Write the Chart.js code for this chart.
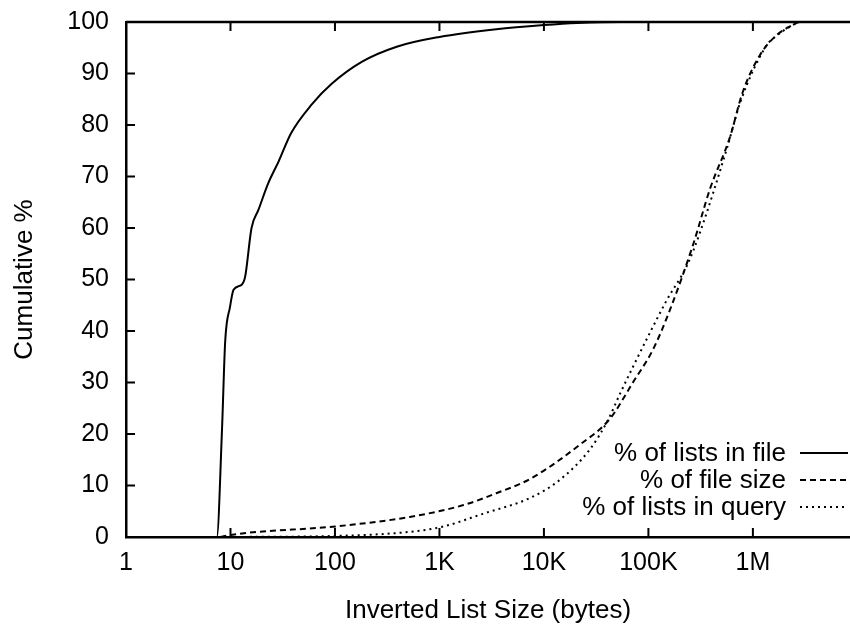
<!DOCTYPE html>
<html>
<head>
<meta charset="utf-8">
<script src="https://cdn.jsdelivr.net/npm/chart.js@4.4.0/dist/chart.umd.min.js"></script>
<style>
  html, body { margin: 0; padding: 0; background: #fff; }
  canvas { display: block; }
</style>
</head>
<body>
<canvas id="cdfChart" width="850" height="628"></canvas>
<script>
// inverted list size (bytes) vs cumulative %
let listsInFileX = [1, 7.4, 8.3, 8.9, 9.9, 10.7, 12.8, 13.8, 15.9, 18.5, 23, 29, 38, 60, 93, 182, 390, 1000, 3500, 10000, 21000, 54000, 8.5e6];
let listsInFileY = [0, 0, 21, 38, 44.7, 48, 49, 50.5, 60, 63.5, 68.7, 73, 78.4, 84, 88, 92.3, 95.2, 97.1, 98.6, 99.4, 99.8, 100, 100];

let fileSizeX = [8, 10, 107, 520, 1700, 3500, 7400, 22000, 43000, 71000, 110000, 160000, 270000, 390000, 600000, 800000, 1.17e6, 1.7e6, 2.4e6, 2.8e6, 8.5e6];
let fileSizeY = [0, 0.4, 2.1, 3.9, 6.2, 8.5, 11.3, 17.9, 23, 30, 36.3, 44, 57, 67.7, 77.5, 86.4, 93.6, 97.5, 99.4, 100, 100];

let listsInQueryX = [9, 100, 520, 1070, 2600, 7400, 14000, 27500, 41000, 54000, 71000, 103000, 150000, 235000, 310000, 565000, 760000, 1.35e6, 1.5e6, 2.4e6, 2.8e6, 8.5e6];
let listsInQueryY = [0, 0.2, 1, 2, 4.5, 7.6, 11, 17, 22.7, 28, 33, 39.6, 46, 52.8, 59, 75.5, 84.5, 95.5, 96.5, 99.4, 100, 100];

let xTickValues = [1, 10, 100, 1000, 10000, 100000, 1000000];
let xTickLabels = ['1', '10', '100', '1K', '10K', '100K', '1M'];
let seriesNames = ['% of lists in file', '% of file size', '% of lists in query'];

const FONT = '"Liberation Sans", Arial, Helvetica, sans-serif';

function pairs(xs, ys) {
  return xs.map((x, i) => ({ x: x, y: ys[i] }));
}

// gnuplot style frame: top border, inward ticks
const framePlugin = {
  id: 'frame',
  afterDraw(chart) {
    const ctx = chart.ctx;
    const a = chart.chartArea;
    const xs = chart.scales.x, ys = chart.scales.y;
    ctx.save();
    ctx.strokeStyle = '#000';
    ctx.lineWidth = 2.5;
    ctx.beginPath();
    ctx.moveTo(a.left, a.top);
    ctx.lineTo(a.right, a.top);
    ctx.stroke();
    ctx.lineWidth = 2;
    ctx.beginPath();
    xTickValues.forEach(v => {
      const px = xs.getPixelForValue(v);
      ctx.moveTo(px, a.bottom); ctx.lineTo(px, a.bottom - 9);
      ctx.moveTo(px, a.top); ctx.lineTo(px, a.top + 9);
    });
    for (let v = 10; v < 100; v += 10) {
      const py = ys.getPixelForValue(v);
      ctx.moveTo(a.left, py); ctx.lineTo(a.left + 9, py);
    }
    ctx.stroke();

    // legend, gnuplot style: right aligned text, sample to the right
    ctx.font = '26px ' + FONT;
    ctx.fillStyle = '#000';
    ctx.textAlign = 'right';
    ctx.textBaseline = 'middle';
    chart.data.datasets.forEach((ds, i) => {
      const y = a.bottom - 84 + i * 27;
      ctx.fillText(ds.label, a.right - 64, y + 1);
      ctx.setLineDash(ds.borderDash || []);
      ctx.lineWidth = 2;
      ctx.beginPath();
      ctx.moveTo(a.right - 50, y);
      ctx.lineTo(a.right - 2, y);
      ctx.stroke();
    });
    ctx.restore();
  }
};

const lineStyle = {
  borderColor: '#000',
  borderWidth: 2,
  pointRadius: 0,
  fill: false,
  cubicInterpolationMode: 'monotone'
};

let cdfChart = new Chart(document.getElementById('cdfChart').getContext('2d'), {
  type: 'line',
  data: {
    datasets: [
      Object.assign({ label: seriesNames[0], data: pairs(listsInFileX, listsInFileY) }, lineStyle),
      Object.assign({ label: seriesNames[1], data: pairs(fileSizeX, fileSizeY), borderDash: [6, 4] }, lineStyle),
      Object.assign({ label: seriesNames[2], data: pairs(listsInQueryX, listsInQueryY), borderDash: [2, 4] }, lineStyle)
    ]
  },
  options: {
    responsive: false,
    animation: false,
    layout: { padding: { top: 22, left: 0, right: 0, bottom: 0 } },
    plugins: {
      legend: { display: false },
      tooltip: { enabled: false }
    },
    scales: {
      x: {
        type: 'logarithmic',
        min: 1,
        max: 8.5e6,
        grid: { display: false, drawTicks: false },
        border: { display: true, color: '#000', width: 2.5 },
        afterBuildTicks: (scale) => {
          scale.ticks = xTickValues.map(v => ({ value: v }));
        },
        afterFit: (scale) => {
          scale.height = 91;
          scale.paddingLeft = 0;
          scale.paddingRight = 0;
        },
        ticks: {
          autoSkip: false,
          maxRotation: 0,
          padding: 11,
          color: '#000',
          font: { family: FONT, size: 25 },
          callback: (value) => {
            const i = xTickValues.indexOf(value);
            return i >= 0 ? xTickLabels[i] : '';
          }
        },
        title: {
          display: true,
          text: 'Inverted List Size (bytes)',
          color: '#000',
          padding: { top: 4, bottom: 2 },
          font: { family: FONT, size: 26 }
        }
      },
      y: {
        min: 0,
        max: 100,
        grid: { display: false, drawTicks: false },
        border: { display: true, color: '#000', width: 2.5 },
        afterFit: (scale) => {
          scale.width = 126;
          scale.paddingTop = 0;
          scale.paddingBottom = 0;
        },
        ticks: {
          stepSize: 10,
          padding: 17,
          color: '#000',
          font: { family: FONT, size: 25 }
        },
        title: {
          display: true,
          text: 'Cumulative %',
          color: '#000',
          padding: { top: 9, bottom: 4 },
          font: { family: FONT, size: 26 }
        }
      }
    }
  },
  plugins: [framePlugin]
});
</script>
</body>
</html>
